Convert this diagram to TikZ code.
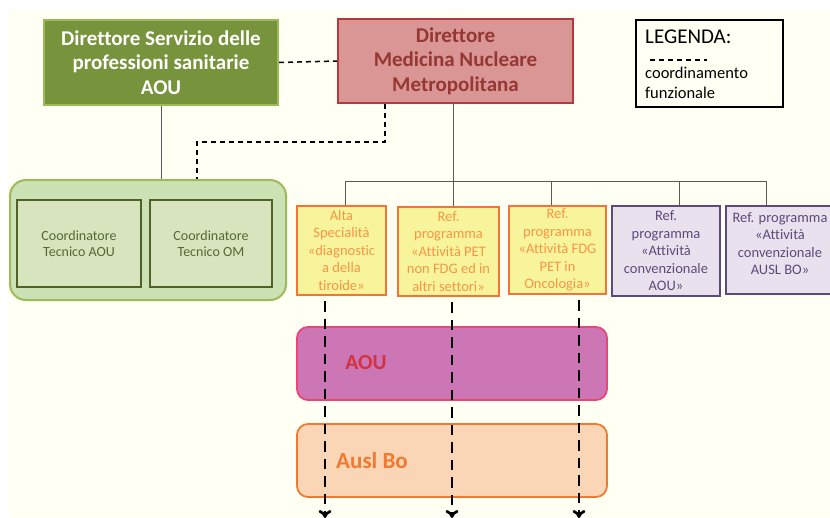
\documentclass[tikz,border=0pt]{standalone}
\usepackage{fontspec}
\setmainfont{Carlito}[Ligatures=NoCommon]
\usepackage{tikz}
\usetikzlibrary{arrows.meta}

\definecolor{sfondo}{HTML}{FFFFF3}
\definecolor{verdeA}{HTML}{77933C}
\definecolor{verdeB}{HTML}{9BBB59}
\definecolor{verdeC}{HTML}{D7E4BD}
\definecolor{verdeD}{HTML}{4F6228}
\definecolor{verdeE}{HTML}{CDE2B4}
\definecolor{rossoA}{HTML}{DA9694}
\definecolor{rossoB}{HTML}{B23A3E}
\definecolor{rossoC}{HTML}{953735}
\definecolor{gialloA}{HTML}{F8F49C}
\definecolor{aranA}{HTML}{F57434}
\definecolor{aranB}{HTML}{F79646}
\definecolor{violaA}{HTML}{E9E2EE}
\definecolor{violaB}{HTML}{5F497A}
\definecolor{rosaA}{HTML}{CC76B5}
\definecolor{rosaB}{HTML}{EC4479}
\definecolor{rosaC}{HTML}{D3323E}
\definecolor{pescaA}{HTML}{FBD6B6}
\definecolor{pescaB}{HTML}{F07A30}
\definecolor{linea}{HTML}{5A5A5A}

\tikzset{
  capo/.style={draw, line width=2pt, minimum width=234pt, minimum height=85pt,
    align=center, inner sep=0pt, font=\fontsize{21}{24.5}\selectfont\bfseries},
  coord/.style={draw=verdeD, line width=2.5pt, fill=verdeC, text=verdeD!85!gray,
    minimum width=122pt, minimum height=87pt, align=center,
    font=\fontsize{14}{16}\selectfont},
  refgiallo/.style={draw=aranA, line width=2pt, fill=gialloA, text=aranB,
    minimum height=89pt, align=center, inner sep=0pt,
    font=\fontsize{14.5}{17.5}\selectfont},
  refviola/.style={draw=violaB, line width=2pt, fill=violaA, text=violaB,
    minimum height=89pt, align=center, inner sep=0pt,
    font=\fontsize{14.5}{17.5}\selectfont},
  fascia/.style={line width=1.8pt, rounded corners=11pt, minimum width=310pt,
    minimum height=73pt},
  funz/.style={dash pattern=on 5pt off 4pt, line width=1.5pt},
  flusso/.style={dash pattern=on 10.5pt off 7pt, line width=2.7pt, -{To[length=8pt,width=13pt]}},
  ramo/.style={draw=linea, line width=0.9pt}
}

\begin{document}
\begin{tikzpicture}[x=1pt,y=1pt,yscale=-1,xscale=1]
\useasboundingbox (0,0) rectangle (830,517);
\fill[white] (0,0) rectangle (830,517);
\fill[sfondo] (8,9) rectangle (830,517);

%Vertici
\node[capo, fill=verdeA, draw=verdeB, text=white] (dirsp) at (161,62.5)
  {Direttore Servizio delle\\professioni sanitarie\\AOU};
\node[capo, fill=rossoA, draw=rossoB, text=rossoC, minimum width=235pt, minimum height=84pt] (dirmn) at (455.5,61)
  {Direttore\\Medicina Nucleare\\Metropolitana};

%Legenda
\draw[line width=2pt] (636,20) rectangle (783,107);
\node[anchor=west, inner sep=0pt, font=\fontsize{21}{22}\selectfont] (leg) at (645,37) {LEGENDA:};
\draw[dash pattern=on 5pt off 4pt, line width=1.2pt] (650,60) -- (707,60);
\node[anchor=north west, inner sep=0pt, align=left, font=\fontsize{16.5}{20}\selectfont] (legtxt) at (645,67)
  {coordinamento\\funzionale};

%Coordinatori
\node[draw=verdeB, fill=verdeE, line width=2pt, rounded corners=16pt,
  minimum width=276pt, minimum height=120pt] (cont) at (148,240) {};
\node[coord, minimum width=124pt] (coaou) at (79,243.5) {Coordinatore\\Tecnico AOU};
\node[coord] (coom) at (211,243.5) {Coordinatore\\Tecnico OM};

%Referenti
\node[refgiallo, minimum width=89pt] (r1) at (341.5,250.5)
  {Alta\\Specialità\\«diagnostic\\a della\\tiroide»};
\node[refgiallo, minimum width=101pt] (r2) at (448.5,251.5)
  {Ref.\\programma\\«Attività PET\\non FDG ed in\\altri settori»};
\node[refgiallo, minimum width=97pt, minimum height=88pt] (r3) at (557.5,250)
  {Ref.\\programma\\«Attività FDG\\PET in\\Oncologia»};
\node[refviola, minimum width=108pt, minimum height=90pt] (r4) at (666,251)
  {Ref.\\programma\\«Attività\\convenzionale\\AOU»};
\node[refviola, minimum width=108pt, minimum height=88pt, text depth=12pt] (r5) at (780,249.5)
  {Ref. programma\\«Attività\\convenzionale\\AUSL BO»};

%Aziende
\node[fascia, draw=rosaB, fill=rosaA] (aou) at (452,363.5) {};
\node[fascia, draw=pescaB, fill=pescaA] (ausl) at (452,460.5) {};
\node[text=rosaC, font=\fontsize{21.5}{22}\selectfont\bfseries] (aoutxt) at (366,363) {AOU};
\node[text=pescaB, font=\fontsize{23}{24}\selectfont\bfseries] (ausltxt) at (372,461) {Ausl Bo};

%Collegamenti
\coordinate (bus) at (0,181);
\coordinate (bot) at (0,518);
\draw[funz] (dirsp.east) -- (dirmn.west);
\draw[ramo] (dirsp.south) -- (dirsp.south |- cont.north);
\draw[funz] ([xshift=-70.5]dirmn.south) -- ++(0,38) -| ([xshift=49]cont.north);
\draw[ramo] ([xshift=-2.5]dirmn.south) -- ([xshift=-2.5]dirmn.south |- r2.north);
\draw[ramo] ([xshift=3.5]r1.north) |- ([xshift=-14]r5.north |- bus) -- ([xshift=-14]r5.north);
\foreach \n/\dx in {r3/-6.5, r4/13}
  \draw[ramo] ([xshift=\dx]\n.north) -- ([xshift=\dx]\n.north |- bus);

\foreach \n/\dx in {r1/-16.5, r2/3.5, r3/21.5}
  \draw[flusso] ([xshift=\dx,yshift=5]\n.south) -- ([xshift=\dx]\n.south |- bot);

\end{tikzpicture}
\end{document}
